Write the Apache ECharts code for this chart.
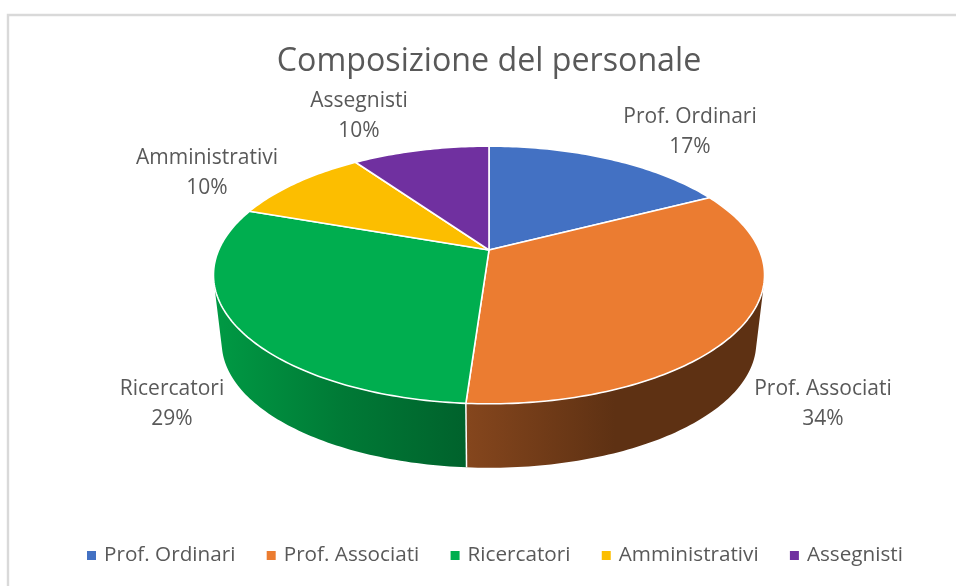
<!DOCTYPE html>
<html>
<head>
<meta charset="utf-8">
<style>
  html, body { margin: 0; padding: 0; background: #fff; }
  #chart { width: 956px; height: 586px; }
</style>
<script src="https://cdn.jsdelivr.net/npm/echarts@6/dist/echarts.min.js"></script>
</head>
<body>
<div id="chart"></div>
<script>
const categories = ['Prof. Ordinari', 'Prof. Associati', 'Ricercatori', 'Amministrativi', 'Assegnisti']
const shares = [17.4, 33.7, 29.3, 9.9, 9.7]
const colors = ['#4371C3', '#EB7C31', '#00AE4F', '#FCBE00', '#7030A0']
const sideColors = [null, ['#85461d', '#5e3113', '#5e3113'], ['#009a44', '#007a36', '#00622c'], null, null]
const labelCenters = [[690, 132], [823, 404], [172, 404], [207, 173], [359, 116]]

// perspective of the tilted disc: apex, radii and tilt
const apex = [489, 250]
const radiusX = 270.3
const radiusY = 124
const tilt = 0.1938
const depth = 68.6
const depthScale = 0.97
const visibleFrom = 104.2
const visibleTo = 255.8

const total = shares.reduce((sum, v) => sum + v, 0)
const starts = shares.map((_, i) => shares.slice(0, i).reduce((sum, v) => sum + v, 0) / total * 360)

const topPoint = (deg) => {
  const a = deg * Math.PI / 180
  const u = Math.sin(a)
  const v = -Math.cos(a)
  const w = 1 - tilt * v
  return [apex[0] + radiusX * u / w, apex[1] + radiusY * v / w]
}

const bottomPoint = (deg) => {
  const p = topPoint(deg)
  return [
    apex[0] + (p[0] - apex[0]) * depthScale,
    apex[1] + depth + (p[1] - apex[1]) * depthScale,
  ]
}

const arc = (fn, from, to) => {
  const steps = Math.max(2, Math.ceil(Math.abs(to - from)))
  const pts = []
  for (let i = 0; i <= steps; i++) {
    pts.push(fn(from + (to - from) * i / steps))
  }
  return pts
}

const renderSlice = (params, api) => {
  const i = params.seriesIndex
  const from = starts[i]
  const to = from + api.value(0) / total * 360
  const children = []

  if (sideColors[i]) {
    const a = Math.max(from, visibleFrom)
    const b = Math.min(to, visibleTo)
    children.push({
      type: 'polygon',
      silent: true,
      z2: 1,
      shape: { points: arc(topPoint, a, b).concat(arc(bottomPoint, b, a)) },
      style: {
        fill: new echarts.graphic.LinearGradient(0, 0, 1, 0, sideColors[i].map((color, k) => ({
          offset: k / (sideColors[i].length - 1),
          color,
        }))),
      },
    })
    if (to < visibleTo) {
      const p = topPoint(to)
      const q = bottomPoint(to)
      children.push({
        type: 'line',
        silent: true,
        z2: 30,
        shape: { x1: p[0], y1: p[1], x2: q[0], y2: q[1] },
        style: { stroke: '#fff', lineWidth: 1.5 },
      })
    }
  }

  children.push({
    type: 'polygon',
    silent: true,
    z2: 10,
    shape: { points: [apex].concat(arc(topPoint, from, to)) },
    style: { fill: colors[i], stroke: '#fff', lineWidth: 1.6, lineJoin: 'round' },
  })

  const pct = Math.round(api.value(0) / total * 100)
  children.push({
    type: 'text',
    silent: true,
    z2: 40,
    x: labelCenters[i][0],
    y: labelCenters[i][1],
    style: {
      text: categories[i] + '\n' + pct + '%',
      fill: '#595959',
      font: '21px "Open Sans"',
      lineHeight: 30,
      align: 'center',
      verticalAlign: 'middle',
    },
  })

  return { type: 'group', children }
}

const chart = echarts.init(document.getElementById('chart'), null, { renderer: 'canvas' })

chart.setOption({
  animation: false,
  backgroundColor: '#fff',
  title: {
    text: 'Composizione del personale',
    left: 484,
    top: 41,
    textAlign: 'center',
    textStyle: { fontFamily: 'Open Sans', fontSize: 32.2, fontWeight: 'normal', color: '#595959' },
  },
  legend: {
    data: categories,
    left: 82,
    top: 540,
    icon: 'rect',
    itemWidth: 9,
    itemHeight: 9,
    itemGap: 31.3,
    selectedMode: false,
    textStyle: { fontFamily: 'Open Sans', fontSize: 20.7, color: '#595959', padding: [0, 0, 0, 3] },
  },
  graphic: [{
    type: 'polyline',
    silent: true,
    shape: { points: [[8, 600], [8, 15], [970, 15]] },
    style: { stroke: '#d9d9d9', lineWidth: 2.4, fill: null },
  }],
  series: categories.map((name, i) => ({
    type: 'custom',
    name,
    coordinateSystem: 'none',
    renderItem: renderSlice,
    itemStyle: { color: colors[i] },
    data: [[shares[i]]],
  })),
})

window.addEventListener('resize', () => chart.resize())
</script>
</body>
</html>
